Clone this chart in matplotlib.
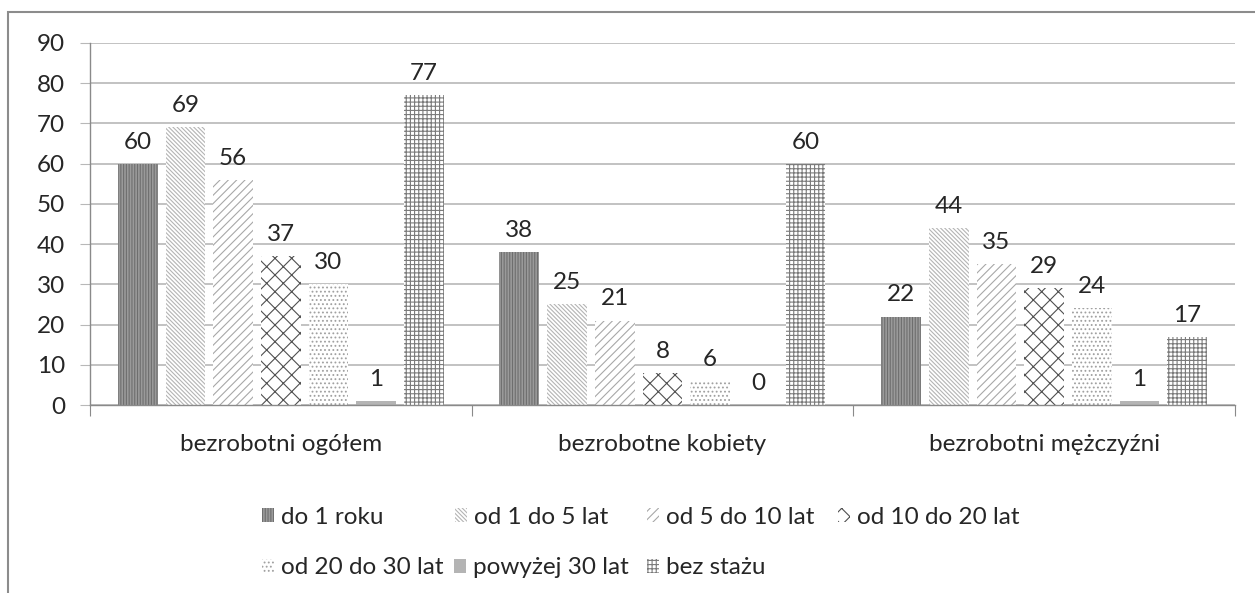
import numpy as np
import matplotlib
matplotlib.use("Agg")
import matplotlib.pyplot as plt
from matplotlib.patches import Rectangle

plt.rcParams['font.family'] = ['Lato', 'DejaVu Sans']
plt.rcParams['hatch.linewidth'] = 0.8

# data
groups = ["bezrobotni ogółem", "bezrobotne kobiety", "bezrobotni mężczyźni"]
series = ["do 1 roku", "od 1 do 5 lat", "od 5 do 10 lat", "od 10 do 20 lat",
          "od 20 do 30 lat", "powyżej 30 lat", "bez stażu"]
do_1_roku = [60, 38, 22]
od_1_do_5 = [69, 25, 44]
od_5_do_10 = [56, 21, 35]
od_10_do_20 = [37, 8, 29]
od_20_do_30 = [30, 6, 24]
powyzej_30 = [1, 0, 1]
bez_stazu = [77, 60, 17]
values = [do_1_roku, od_1_do_5, od_5_do_10, od_10_do_20, od_20_do_30, powyzej_30, bez_stazu]

# fill styles: (facecolor, hatch colour, hatch)
styles = [
    ("#9a9a9a", "#6e6e6e", "||||||"),
    ("white", "#b4b4b4", "\\\\\\\\\\\\\\\\"),
    ("white", "#a8a8a8", "////"),
    ("white", "#505050", "xx"),
    ("white", "#a0a0a0", "...."),
    ("#b4b4b4", "#b4b4b4", None),
    ("white", "#7a7a7a", "++++"),
]

FS = 17.5
TXT = "#262626"

fig = plt.figure(figsize=(12.55, 5.93), dpi=100)
ax = fig.add_axes([0.0717, 0.317, 0.9123, 0.6105])

x = np.arange(len(groups))
step = 0.125
width = 0.104
bars = []
for i, (vals, (fc, hc, h)) in enumerate(zip(values, styles)):
    pos = x - 0.5 + step * (i + 1)
    b = ax.bar(pos, vals, width, facecolor=fc, edgecolor=hc, hatch=h,
               linewidth=0, label=series[i], zorder=2)
    bars.append(b)
    for px, v in zip(pos, vals):
        ax.annotate(str(v), (px, v), xytext=(0, 8), textcoords="offset points",
                    ha="center", va="bottom", fontsize=FS, color=TXT)

ax.set_ylim(0, 90)
ax.set_xlim(-0.5, 2.5)
ax.set_yticks(range(0, 91, 10))
ax.yaxis.grid(True, color="#b8b8b8", linewidth=1.2, zorder=0)
ax.set_axisbelow(True)
ax.tick_params(axis="y", length=7, color="#b8b8b8", labelsize=FS,
               labelcolor=TXT, pad=11)
ax.set_xticks([-0.5, 0.5, 1.5, 2.5])
ax.set_xticklabels([])
ax.set_xticks(x, minor=True)
ax.set_xticklabels(groups, minor=True)
ax.tick_params(axis="x", which="major", length=8, color="#8a8a8a", direction="out")
ax.tick_params(axis="x", which="minor", length=0, labelsize=FS,
               labelcolor=TXT, pad=21)
for s in ["top", "right"]:
    ax.spines[s].set_visible(False)
for s in ["left", "bottom"]:
    ax.spines[s].set_color("#8a8a8a")
    ax.spines[s].set_linewidth(1.0)

# legend entries placed like the original two-row layout
handles = [b.patches[0] for b in bars]
leg_x = [262, 455, 647, 838, 262, 454, 647]
leg_y = [517, 517, 517, 517, 568, 568, 568]
for hnd, lab, lx, ly in zip(handles, series, leg_x, leg_y):
    leg = fig.legend([hnd], [lab], loc="center left",
                     bbox_to_anchor=(lx / 1255, 1 - ly / 593), frameon=False,
                     fontsize=FS, handlelength=0.5, handleheight=0.5,
                     handletextpad=0.3, borderpad=0, borderaxespad=0)
    for t in leg.get_texts():
        t.set_color(TXT)

# outer chart frame
fig.patches.append(Rectangle((8 / 1255, -0.1), 1.2, 1 - 12 / 593 + 0.1,
                             transform=fig.transFigure, fill=False,
                             edgecolor="#8c8c8c", linewidth=1.5))

fig.savefig("out.png", dpi=100)
